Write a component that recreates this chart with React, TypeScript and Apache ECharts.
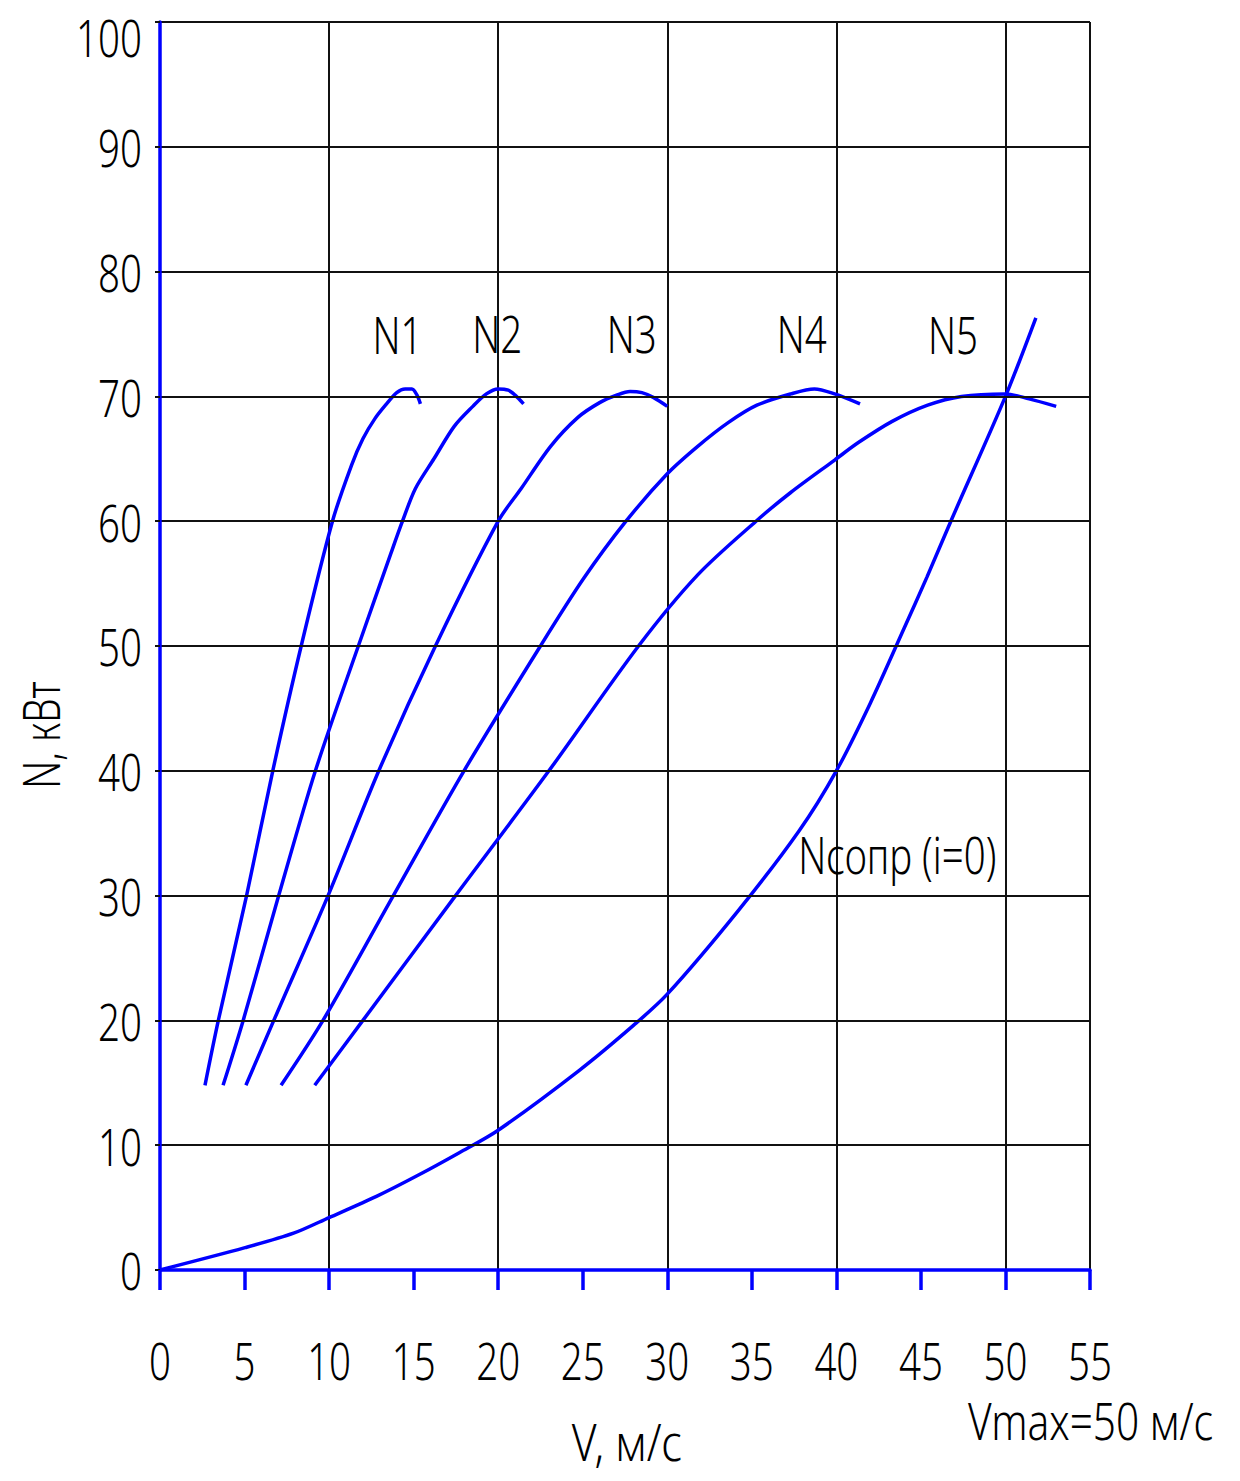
import React, { useEffect, useRef } from "react";
import * as echarts from "echarts";

// Speed, m/s and power, kW
const n1V = [2.66, 3.45, 5.12, 6.67, 8.35, 10.2, 11.33, 12.0, 12.7, 13.4, 14.0, 14.5, 14.9, 15.2, 15.4];
const n1N = [14.8, 20, 30, 40, 50, 60, 64.5, 66.6, 68.2, 69.4, 70.3, 70.6, 70.6, 70.1, 69.4];

const n2V = [3.73, 4.92, 7.02, 9.19, 11.73, 13.65, 14.34, 15.1, 16.2, 17.4, 18.5, 19.3, 20.0, 20.6, 21.0, 21.5];
const n2N = [14.8, 20, 30, 40, 50, 57.4, 60, 62.6, 65, 67.6, 69.2, 70.2, 70.6, 70.5, 70.1, 69.4];

const n3V = [5.08, 6.73, 9.94, 12.94, 16.29, 20, 21.35, 23.1, 24.7, 26.0, 27.0, 27.8, 28.5, 29.2, 30];
const n3N = [14.8, 20, 30, 40, 50, 60, 62.6, 66, 68.3, 69.5, 70.1, 70.4, 70.3, 69.9, 69.2];

const n4V = [7.16, 9.64, 13.8, 17.98, 22.5, 25.05, 27.5, 30, 31.8, 33.6, 35.3, 37.3, 38.7, 39.9, 41.4];
const n4N = [14.8, 20, 30, 40, 50, 55.4, 59.9, 63.8, 66, 67.9, 69.3, 70.2, 70.6, 70.2, 69.4];

const n5V = [9.15, 12.0, 17.48, 23.0, 28.3, 31.8, 35.25, 37.3, 39.9, 41.3, 43.3, 45.4, 47.4, 50, 51.4, 53.0];
const n5N = [14.8, 20, 30, 40, 50, 55.7, 60, 62.3, 64.9, 66.3, 68.0, 69.3, 70, 70.2, 69.8, 69.2];

const resV = [0, 5.03, 7.9, 10, 12.8, 15.2, 17.7, 20, 24.8, 28, 30, 34.2, 37.8, 40, 42, 44, 45.35, 46.77, 50, 51.8];
const resN = [0, 1.79, 2.95, 4.2, 5.9, 7.55, 9.4, 11.2, 16, 19.6, 22.1, 28.8, 35.2, 40, 45.4, 51.4, 55.5, 60, 70, 76.3];

// Tick labels
const xTicks = [0, 5, 10, 15, 20, 25, 30, 35, 40, 45, 50, 55];
const yTicks = [0, 10, 20, 30, 40, 50, 60, 70, 80, 90, 100];

// Curve labels and their anchor positions (data units)
const curveLabels = ["N1", "N2", "N3", "N4", "N5", "Nсопр (i=0)"];
const labelV = [14.05, 19.95, 27.9, 37.95, 46.9, 43.6];
const labelN = [75.0, 75.1, 75.1, 75.1, 75.0, 33.4];

const xTitle = "V, м/с";
const yTitle = "N, кВт";
const noteText = "Vmax=50 м/с";

const FONT = '"Noto Sans", "Liberation Sans", sans-serif';
const BLUE = "#0000ff";
const INK = "#000000";
const FS = 52;
const SX = 0.74;

function zip(a: number[], b: number[]) {
  return a.map((v, i) => [v, b[i]]);
}

function txt(x: number, y: number, text: string, align: string, extra: any = {}) {
  return {
    type: "text",
    x,
    y,
    scaleX: SX,
    silent: true,
    z: 10,
    ...extra,
    style: {
      text,
      fontSize: FS,
      fontWeight: 300,
      fill: INK,
      fontFamily: FONT,
      align,
      verticalAlign: "middle",
    },
  };
}

export default function App() {
  const ref = useRef<HTMLDivElement>(null);
  useEffect(() => {
    if (!ref.current) return;
    const chart = echarts.init(ref.current, null, { renderer: "svg" });
    const curves = [
      zip(n1V, n1N),
      zip(n2V, n2N),
      zip(n3V, n3N),
      zip(n4V, n4N),
      zip(n5V, n5N),
      zip(resV, resN),
    ];
    const lineSeries = curves.map((d) => ({
      type: "line",
      data: d,
      xAxisIndex: 0,
      yAxisIndex: 0,
      symbol: "none",
      smooth: 0.3,
      lineStyle: { color: BLUE, width: 3.5 },
      z: 3,
    }));
    chart.setOption({
      animation: false,
      backgroundColor: "#ffffff",
      grid: { left: 160, top: 22, width: 930, height: 1248, containLabel: false },
      xAxis: [
        {
          type: "value",
          min: 0,
          max: 55,
          interval: 5,
          position: "bottom",
          axisLine: { show: true, onZero: false, lineStyle: { color: BLUE, width: 3.5 } },
          axisTick: { show: true, length: 20, lineStyle: { color: BLUE, width: 3.5 } },
          axisLabel: { show: false },
          splitLine: { show: false },
          z: 4,
        },
        {
          type: "value",
          min: 0,
          max: 55,
          interval: 10,
          position: "bottom",
          axisLine: { show: false },
          axisTick: { show: false },
          axisLabel: { show: false },
          splitLine: { show: true, lineStyle: { color: "#111", width: 2 } },
          z: 1,
        },
      ],
      yAxis: {
        type: "value",
        min: 0,
        max: 100,
        interval: 10,
        axisLine: { show: true, onZero: false, lineStyle: { color: BLUE, width: 3.5 } },
        axisTick: { show: true, length: 5, lineStyle: { color: "#111", width: 2 } },
        axisLabel: { show: false },
        splitLine: { show: true, lineStyle: { color: "#111", width: 2 } },
        z: 4,
      },
      series: lineSeries,
    });

    const toPx = (v: number, n: number) =>
      chart.convertToPixel({ seriesIndex: 0 }, [v, n]) as number[];
    const origin = toPx(0, 0);
    const graphics: any[] = [];
    yTicks.forEach((t) => {
      const p = toPx(0, t);
      graphics.push(txt(origin[0] - 18, Math.max(p[1], 37), String(t), "right"));
    });
    xTicks.forEach((t) => {
      const p = toPx(t, 0);
      graphics.push(txt(p[0], origin[1] + 90, String(t), "center"));
    });
    curveLabels.forEach((l, i) => {
      const p = toPx(labelV[i], labelN[i]);
      graphics.push(txt(p[0], p[1], l, "center"));
    });
    graphics.push(txt(627, 1441, xTitle, "center", { scaleX: 0.82 }));
    graphics.push(txt(40, 735, yTitle, "center", { rotation: Math.PI / 2 }));
    graphics.push(txt(968, 1420, noteText, "left", { scaleX: 0.78 }));
    chart.setOption({ graphic: graphics });

    return () => chart.dispose();
  }, []);
  return (
    <div
      ref={ref}
      style={{ position: "absolute", left: 0, top: 0, width: 1240, height: 1481, background: "#fff" }}
    />
  );
}
